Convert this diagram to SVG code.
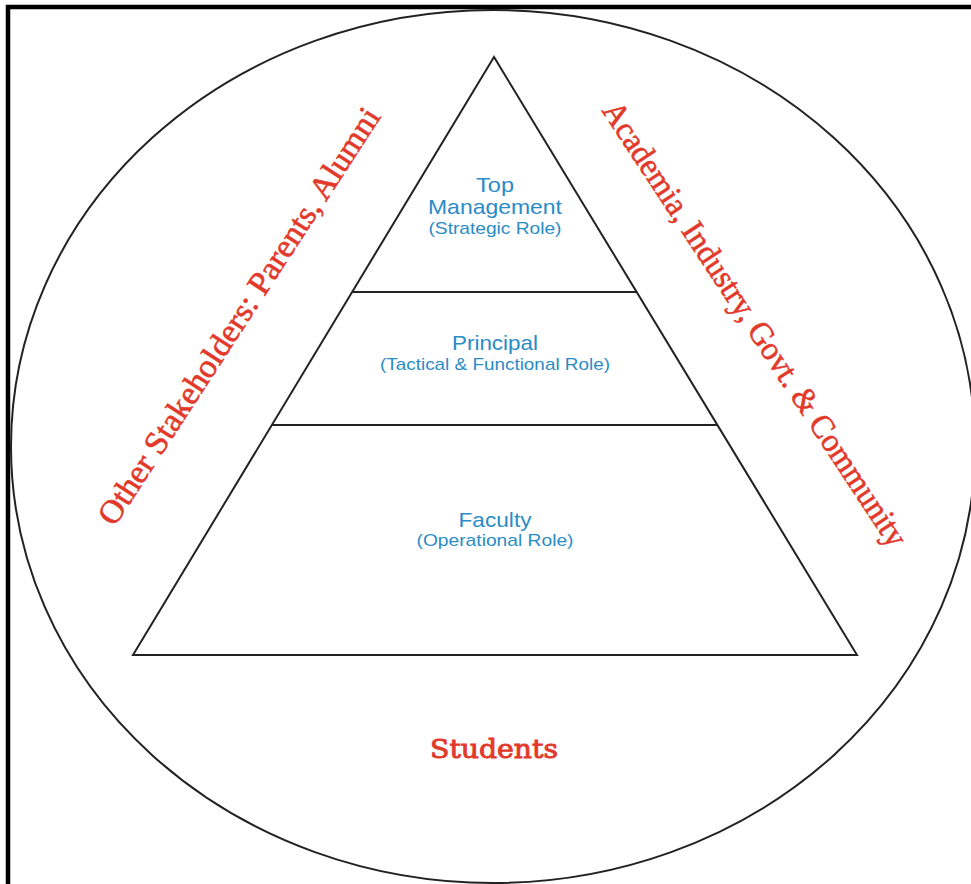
<svg xmlns="http://www.w3.org/2000/svg" width="971" height="884" viewBox="0 0 971 884">
<style>
.line{fill:none;stroke:#222;stroke-width:2}
.blue{font-family:"Liberation Sans",Arial,sans-serif;fill:#2a8cc6;text-anchor:middle}
.red{font-family:"DejaVu Serif","Liberation Serif",serif;fill:#e2392b;stroke:#e2392b;stroke-width:0.9;text-anchor:middle}
.rot{font-family:"Liberation Serif","DejaVu Serif",serif;stroke-width:0.6}
</style>
<rect width="971" height="884" fill="#fff"/>
<path d="M8,884 V7 H971" fill="none" stroke="#000" stroke-width="4.5"/>
<g id="stakeholders-ellipse">
<ellipse class="line" cx="493" cy="446.5" rx="482" ry="436.5"/>
</g>
<g id="pyramid">
<polygon class="line" points="494,57 133,655 857,655"/>
</g>
<g id="connectors">
<line class="line" x1="353" y1="292" x2="637" y2="292"/>
<line class="line" x1="272" y1="425" x2="717" y2="425"/>
</g>
<g id="top-management">
<text class="blue" x="495" y="192" font-size="21" textLength="38" lengthAdjust="spacingAndGlyphs">Top</text>
<text class="blue" x="495" y="214" font-size="21" textLength="134" lengthAdjust="spacingAndGlyphs">Management</text>
<text class="blue" x="495" y="234" font-size="17" textLength="133" lengthAdjust="spacingAndGlyphs">(Strategic Role)</text>
</g>
<g id="principal">
<text class="blue" x="495" y="350" font-size="21" textLength="86" lengthAdjust="spacingAndGlyphs">Principal</text>
<text class="blue" x="495" y="370" font-size="17" textLength="230" lengthAdjust="spacingAndGlyphs">(Tactical &amp; Functional Role)</text>
</g>
<g id="faculty">
<text class="blue" x="495" y="527" font-size="21" textLength="73" lengthAdjust="spacingAndGlyphs">Faculty</text>
<text class="blue" x="495" y="546" font-size="17" textLength="157" lengthAdjust="spacingAndGlyphs">(Operational Role)</text>
</g>
<g id="students">
<text class="red" x="494" y="758" font-size="26" textLength="128" lengthAdjust="spacingAndGlyphs">Students</text>
</g>
<g id="other-stakeholders">
<text class="red rot" x="0" y="0" font-size="33" textLength="490" lengthAdjust="spacingAndGlyphs" transform="translate(248,322) rotate(-57)">Other Stakeholders: Parents, Alumni</text>
</g>
<g id="academia">
<text class="red rot" x="0" y="0" font-size="33" textLength="526" lengthAdjust="spacingAndGlyphs" transform="translate(746,330) rotate(56.6)">Academia, Industry, Govt. &amp; Community</text>
</g>
</svg>
